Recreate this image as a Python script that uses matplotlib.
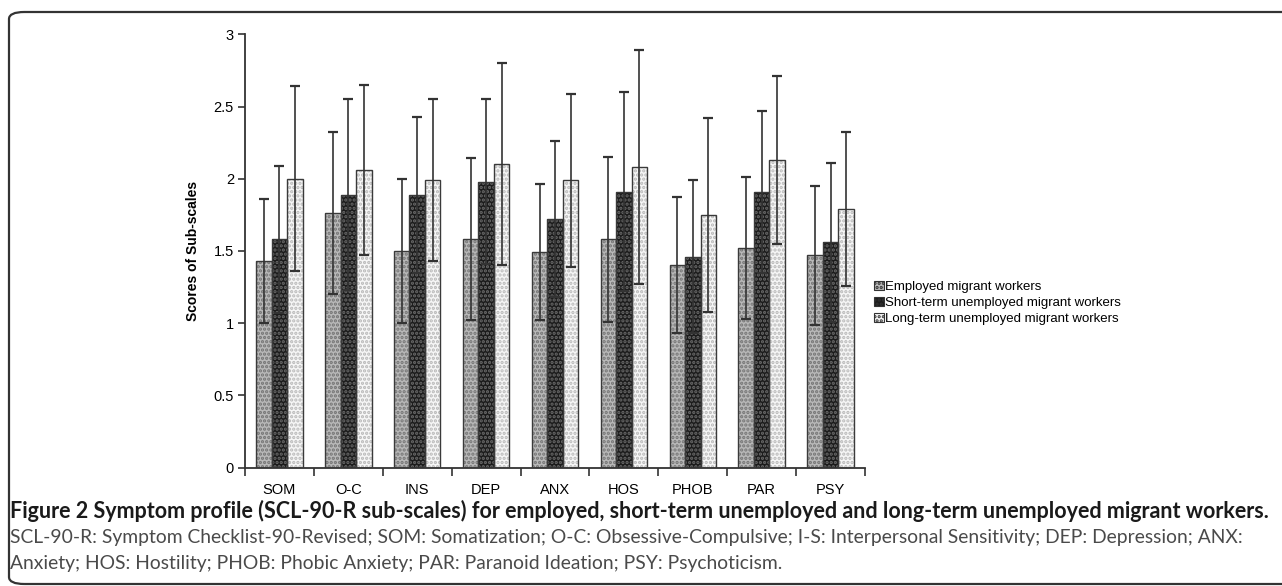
import numpy as np
import matplotlib
matplotlib.use("Agg")
import matplotlib.pyplot as plt
from matplotlib.patches import FancyBboxPatch, Patch

# SCL-90-R sub-scale means and SDs for the three groups
scales = ["SOM", "O-C", "INS", "DEP", "ANX", "HOS", "PHOB", "PAR", "PSY"]
groups = ["Employed migrant workers",
          "Short-term unemployed migrant workers",
          "Long-term unemployed migrant workers"]
employed_mean = [1.43, 1.76, 1.50, 1.58, 1.49, 1.58, 1.40, 1.52, 1.47]
employed_sd = [0.43, 0.56, 0.50, 0.56, 0.47, 0.57, 0.47, 0.49, 0.48]
short_mean = [1.58, 1.89, 1.89, 1.98, 1.72, 1.91, 1.46, 1.91, 1.56]
short_sd = [0.51, 0.66, 0.54, 0.57, 0.54, 0.69, 0.53, 0.56, 0.55]
long_mean = [2.00, 2.06, 1.99, 2.10, 1.99, 2.08, 1.75, 2.13, 1.79]
long_sd = [0.64, 0.59, 0.56, 0.70, 0.60, 0.81, 0.67, 0.58, 0.53]
yticks = [0, 0.5, 1, 1.5, 2, 2.5, 3]

caption_title = ("Figure 2 Symptom profile (SCL-90-R sub-scales) for employed, "
                 "short-term unemployed and long-term unemployed migrant workers.")
caption_l1 = ("SCL-90-R: Symptom Checklist-90-Revised; SOM: Somatization; O-C: "
              "Obsessive-Compulsive; I-S: Interpersonal Sensitivity; DEP: Depression; ANX:")
caption_l2 = ("Anxiety; HOS: Hostility; PHOB: Phobic Anxiety; PAR: Paranoid Ideation; "
              "PSY: Psychoticism.")

narrow = ["Liberation Sans Narrow", "Liberation Sans", "DejaVu Sans"]

W, H = 1282, 586
fig = plt.figure(figsize=(W / 100, H / 100), dpi=100)
plt.rcParams["hatch.linewidth"] = 1.6

ax = fig.add_axes([245 / W, 1 - 467.5 / H, 620 / W, 433.2 / H])

x = np.arange(len(scales))
bw = 0.225
faces = ["#b8b8b8", "#1c1c1c", "#f6f6f6"]
dots = ["#747474", "#6a6a6a", "#b8b8b8"]
means = [employed_mean, short_mean, long_mean]
sds = [employed_sd, short_sd, long_sd]

for i in range(3):
    pos = x + (i - 1) * bw
    ax.bar(pos, means[i], bw, color=faces[i], edgecolor=dots[i],
           hatch="....", linewidth=0, zorder=2)
    ax.bar(pos, means[i], bw, fill=False, edgecolor="#3a3a3a",
           linewidth=1.0, zorder=3)
    ax.errorbar(pos, means[i], yerr=sds[i], fmt="none", ecolor="#333333",
                elinewidth=1.2, capsize=3.5, capthick=1.6, zorder=4)

ax.set_xlim(-0.5, len(scales) - 0.5)
ax.set_ylim(0, 3)
ax.set_yticks(yticks)
ax.set_yticklabels([f"{t:g}" for t in yticks], family=narrow, fontsize=10.5)
ax.set_xticks(np.arange(len(scales) + 1) - 0.5)
ax.set_xticklabels([])
ax.set_xticks(x, minor=True)
ax.set_xticklabels(scales, minor=True, family=narrow, fontsize=10.5)
ax.tick_params(axis="x", which="major", length=6, width=1.2, color="#333333", direction="out")
ax.tick_params(axis="x", which="minor", length=0, pad=11)
ax.tick_params(axis="y", length=5, width=1.2, color="#333333", direction="out", pad=3)
for s in ["top", "right"]:
    ax.spines[s].set_visible(False)
for s in ["left", "bottom"]:
    ax.spines[s].set_linewidth(1.3)
    ax.spines[s].set_color("#333333")
ax.set_ylabel("Scores of Sub-scales", family=narrow, fontweight="bold",
              fontsize=10, labelpad=10)

handles = [Patch(facecolor=faces[i], edgecolor="#333333", hatch="....", linewidth=0.8)
           for i in range(3)]
fig.legend(handles, groups, loc="center left",
           bbox_to_anchor=(869 / W, 1 - 303 / H), frameon=False,
           prop={"family": narrow, "size": 9.5}, handlelength=0.7,
           handleheight=0.7, handletextpad=0.15, labelspacing=0.3,
           borderaxespad=0)

# rounded frame around the figure
frame = FancyBboxPatch((9 / W, 2 / H), 1.2, 1 - 14 / H,
                       boxstyle="round,pad=0,rounding_size=0.012",
                       transform=fig.transFigure, fill=False,
                       edgecolor="#333333", linewidth=1.6, clip_on=False)
fig.patches.append(frame)

fig.text(10 / W, 1 - 511 / H, caption_title, family=["Lato", "DejaVu Sans"],
         fontweight="bold", fontsize=15.5, color="#1a1a1a", va="center")
fig.text(10 / W, 1 - 538 / H, caption_l1, family=["Lato", "DejaVu Sans"],
         fontsize=13.9, color="#4a4a4a", va="center")
fig.text(10 / W, 1 - 564 / H, caption_l2, family=["Lato", "DejaVu Sans"],
         fontsize=13.9, color="#4a4a4a", va="center")

fig.savefig("out.png", dpi=100)
